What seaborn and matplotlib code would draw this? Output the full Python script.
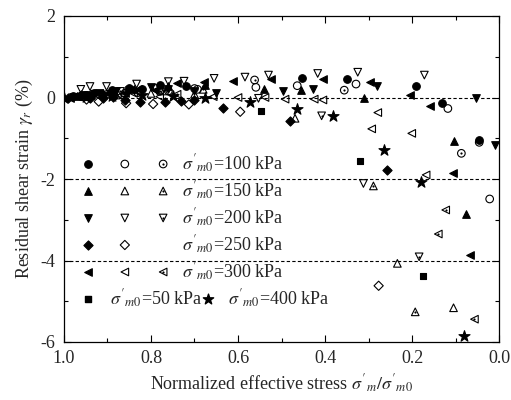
import numpy as np
import pandas as pd
import matplotlib
matplotlib.use("Agg")
import matplotlib.pyplot as plt
import seaborn as sns
from matplotlib.ticker import MultipleLocator, FormatStrFormatter

# ---------------- data ----------------
p100_filled_x = [0.98, 0.95, 0.93, 0.89, 0.85, 0.82, 0.78, 0.72, 0.454, 0.350, 0.192, 0.132, 0.046]
p100_filled_y = [0.03, 0.06, 0.10, 0.18, 0.24, 0.22, 0.31, 0.28, 0.49, 0.45, 0.28, -0.13, -1.05]
p100_open_x = [0.96, 0.90, 0.83, 0.76, 0.693, 0.559, 0.464, 0.329, 0.118, 0.046, 0.022]
p100_open_y = [0.02, 0.08, 0.12, 0.16, 0.20, 0.25, 0.29, 0.33, -0.27, -1.10, -2.49]
p100_dot_x = [0.95, 0.86, 0.78, 0.70, 0.562, 0.356, 0.087]
p100_dot_y = [0.05, 0.10, 0.15, 0.22, 0.43, 0.18, -1.37]

p150_filled_x = [0.97, 0.91, 0.84, 0.76, 0.675, 0.54, 0.456, 0.310, 0.105, 0.076]
p150_filled_y = [0.04, 0.12, 0.22, 0.28, 0.30, 0.20, 0.18, 0.0, -1.06, -2.87]
p150_open_x = [0.95, 0.88, 0.80, 0.70, 0.469, 0.234, 0.105]
p150_open_y = [0.02, 0.06, 0.10, 0.08, -0.51, -4.07, -5.16]
p150_dot_x = [0.94, 0.86, 0.77, 0.68, 0.289, 0.193]
p150_dot_y = [0.05, 0.12, 0.16, 0.20, -2.17, -5.26]

p200_filled_x = [0.98, 0.95, 0.92, 0.88, 0.85, 0.80, 0.76, 0.70, 0.65, 0.497, 0.427, 0.281, 0.054, 0.009]
p200_filled_y = [0.02, 0.05, 0.12, 0.15, 0.18, 0.25, 0.20, 0.15, 0.10, 0.17, 0.20, 0.29, -0.02, -1.17]
p200_open_x = [0.961, 0.940, 0.902, 0.833, 0.760, 0.724, 0.655, 0.584, 0.553, 0.530, 0.417, 0.325, 0.312, 0.172]
p200_open_y = [0.20, 0.27, 0.27, 0.33, 0.39, 0.40, 0.47, 0.50, -0.02, 0.55, 0.59, 0.62, -2.11, 0.55]
p200_dot_x = [0.93, 0.87, 0.79, 0.408, 0.184]
p200_dot_y = [0.08, 0.15, 0.22, -0.45, -3.91]

p250_filled_x = [0.99, 0.96, 0.94, 0.91, 0.887, 0.86, 0.825, 0.767, 0.73, 0.70, 0.634, 0.480, 0.258]
p250_filled_y = [0.0, 0.05, -0.02, 0.0, 0.01, -0.05, -0.10, -0.12, -0.08, -0.05, -0.25, -0.57, -1.78]
p250_open_x = [0.948, 0.920, 0.857, 0.795, 0.713, 0.595, 0.277]
p250_open_y = [-0.05, -0.10, -0.14, -0.16, -0.17, -0.35, -4.62]

p300_filled_x = [0.985, 0.97, 0.94, 0.90, 0.86, 0.83, 0.79, 0.741, 0.678, 0.612, 0.524, 0.404, 0.297, 0.205, 0.160, 0.106, 0.067]
p300_filled_y = [0.0, 0.05, 0.06, 0.10, 0.12, 0.22, 0.18, 0.35, 0.39, 0.40, 0.45, 0.45, 0.39, 0.06, -0.21, -1.86, -3.86]
p300_open_x = [0.95, 0.87, 0.78, 0.657, 0.60, 0.538, 0.492, 0.425, 0.405, 0.293, 0.279, 0.201, 0.168]
p300_open_y = [0.0, 0.05, 0.02, 0.02, 0.0, 0.0, -0.04, -0.04, -0.06, -0.77, -0.37, -0.88, -1.90]
p300_dot_x = [0.92, 0.84, 0.74, 0.140, 0.123, 0.057]
p300_dot_y = [0.03, 0.10, 0.08, -3.35, -2.76, -5.44]

p50_x = [0.547, 0.320, 0.174]
p50_y = [-0.32, -1.55, -4.37]
p400_x = [1.0, 0.95, 0.89, 0.82, 0.75, 0.676, 0.572, 0.465, 0.381, 0.264, 0.179, 0.082]
p400_y = [0.0, 0.02, 0.04, 0.05, 0.04, 0.0, -0.10, -0.27, -0.45, -1.29, -2.07, -5.85]

ref_lines = [0, -2, -4]
legend_labels = ["100", "150", "200", "250", "300"]

# ---------------- style ----------------
sns.set_theme(style="ticks")
plt.rcParams["font.family"] = ["Liberation Serif", "DejaVu Serif"]
plt.rcParams["mathtext.fontset"] = "stix"
plt.rcParams["axes.unicode_minus"] = False

fig = plt.figure(figsize=(5.11, 4.0), dpi=100)
ax = fig.add_axes([0.125, 0.145, 0.852, 0.815])

S = 30
LW = 0.8


def filled(x, y, m, s=S, **kw):
    sns.scatterplot(x=x, y=y, marker=m, s=s, color="black", edgecolor="black",
                    linewidth=LW, ax=ax, zorder=3, **kw)


def opened(x, y, m, s=S, **kw):
    sns.scatterplot(x=x, y=y, marker=m, s=s, facecolor="none", edgecolor="black",
                    linewidth=LW, ax=ax, zorder=3, **kw)


def dotted(x, y, m, s=S, **kw):
    opened(x, y, m, s=s, **kw)
    sns.scatterplot(x=x, y=y, marker="o", s=2.5, color="black", edgecolor="black",
                    linewidth=0, ax=ax, zorder=4, **kw)


for yv in ref_lines:
    ax.axhline(yv, color="black", lw=0.8, ls=(0, (3, 2)), zorder=1)

filled(p100_filled_x, p100_filled_y, "o")
opened(p100_open_x, p100_open_y, "o")
dotted(p100_dot_x, p100_dot_y, "o")
filled(p150_filled_x, p150_filled_y, "^")
opened(p150_open_x, p150_open_y, "^")
dotted(p150_dot_x, p150_dot_y, "^")
filled(p200_filled_x, p200_filled_y, "v")
opened(p200_open_x, p200_open_y, "v")
dotted(p200_dot_x, p200_dot_y, "v")
filled(p250_filled_x, p250_filled_y, "D", s=22)
opened(p250_open_x, p250_open_y, "D", s=22)
filled(p300_filled_x, p300_filled_y, "<")
opened(p300_open_x, p300_open_y, "<")
dotted(p300_dot_x, p300_dot_y, "<")
filled(p50_x, p50_y, "s", s=25)
filled(p400_x, p400_y, "*", s=70)

# ---------------- custom legend ----------------
tr = ax.transAxes
row_y0 = 0.546
dy = 0.0828
mk = [("o", "o", "o"), ("^", "^", "^"), ("v", "v", "v"), ("D", "D", None), ("<", "<", "<")]
col_x = [0.055, 0.140, 0.228]
for i, (lab, marks) in enumerate(zip(legend_labels, mk)):
    yy = row_y0 - i * dy
    s = 22 if marks[0] == "D" else S
    ax.scatter([col_x[0]], [yy], marker=marks[0], s=s, c="black", linewidths=LW, transform=tr, clip_on=False, zorder=5)
    ax.scatter([col_x[1]], [yy], marker=marks[1], s=s, facecolors="none", edgecolors="black", linewidths=LW, transform=tr, clip_on=False, zorder=5)
    if marks[2] is not None:
        ax.scatter([col_x[2]], [yy], marker=marks[2], s=s, facecolors="none", edgecolors="black", linewidths=LW, transform=tr, clip_on=False, zorder=5)
        ax.scatter([col_x[2]], [yy], marker="o", s=2.5, c="black", linewidths=0, transform=tr, clip_on=False, zorder=6)
    ax.text(0.271, yy, r"$\sigma'_{m0}$=" + lab + " kPa", transform=tr, fontsize=13, va="center", ha="left")

yy = row_y0 - 5 * dy
ax.scatter([col_x[0]], [yy], marker="s", s=25, c="black", transform=tr, zorder=5)
ax.text(0.106, yy, r"$\sigma'_{m0}$=50 kPa", transform=tr, fontsize=13, va="center", ha="left")
ax.scatter([0.331], [yy], marker="*", s=60, c="black", transform=tr, zorder=5)
ax.text(0.377, yy, r"$\sigma'_{m0}$=400 kPa", transform=tr, fontsize=13, va="center", ha="left")

# ---------------- axes ----------------
ax.set_xlim(1.0, 0.0)
ax.set_ylim(-6, 2)
ax.xaxis.set_major_locator(MultipleLocator(0.2))
ax.xaxis.set_minor_locator(MultipleLocator(0.1))
ax.yaxis.set_major_locator(MultipleLocator(2))
ax.yaxis.set_minor_locator(MultipleLocator(1))
ax.xaxis.set_major_formatter(FormatStrFormatter("%.1f"))
ax.yaxis.set_major_formatter(FormatStrFormatter("%d"))
ax.tick_params(which="both", direction="in", top=True, right=True, color="black", width=0.8)
ax.tick_params(which="major", length=5, labelsize=13, pad=6)
ax.tick_params(which="minor", length=3)
for sp in ax.spines.values():
    sp.set_color("black")
    sp.set_linewidth(0.9)

ax.set_xlabel(r"Normalized effective stress $\sigma'_m/\sigma'_{m0}$", fontsize=13, labelpad=4)
ax.set_ylabel(r"Residual shear strain $\gamma_r$ (%)", fontsize=13, labelpad=4)

fig.savefig("out.png", dpi=100)
